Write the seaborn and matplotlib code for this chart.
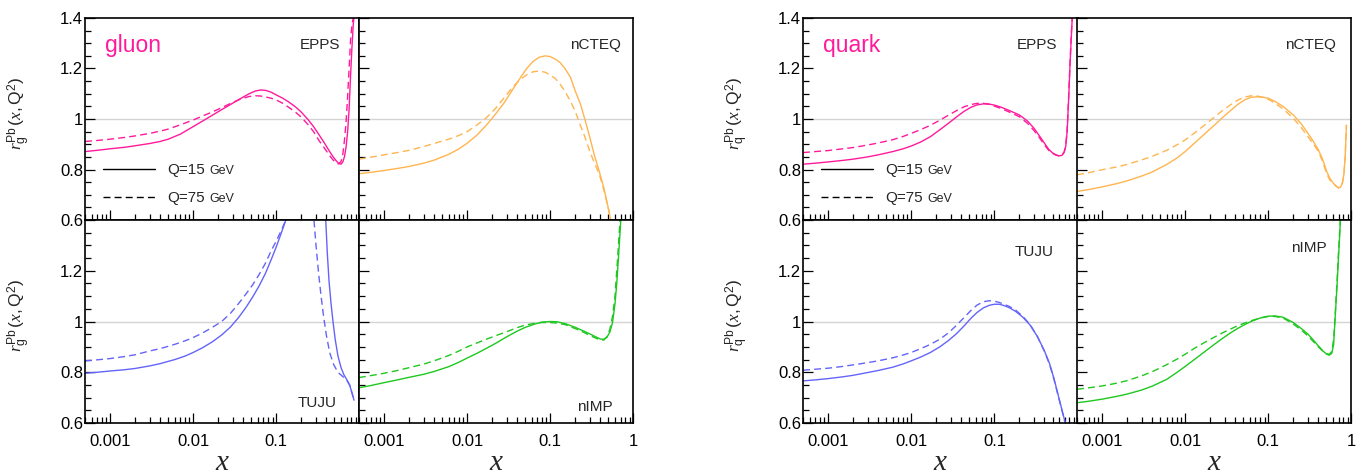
import numpy as np
import pandas as pd
import matplotlib
matplotlib.use("Agg")
import matplotlib.pyplot as plt
import matplotlib.ticker as mticker
from matplotlib.lines import Line2D
import seaborn as sns

# ---- values (nuclear ratio r(x, Q^2)) ----
# gluon, EPPS
x_g_epps = [0.0005, 0.0007, 0.001, 0.0015, 0.002, 0.003, 0.004, 0.005, 0.007, 0.01, 0.013, 0.017,
            0.022, 0.03, 0.038, 0.047, 0.056, 0.065, 0.075, 0.087, 0.1, 0.12, 0.14, 0.17, 0.2, 0.24,
            0.28, 0.33, 0.38, 0.43, 0.48, 0.52, 0.56, 0.6, 0.63, 0.66, 0.69, 0.72, 0.75, 0.78, 0.81,
            0.84, 0.87]
g_epps_15 = [0.871, 0.876, 0.882, 0.888, 0.894, 0.903, 0.911, 0.92, 0.94, 0.97, 0.992, 1.015,
             1.037, 1.063, 1.083, 1.1, 1.111, 1.115, 1.113, 1.106, 1.095, 1.082, 1.068, 1.048, 1.027,
             0.998, 0.97, 0.935, 0.904, 0.875, 0.851, 0.836, 0.825, 0.821, 0.83, 0.851, 0.89, 0.95,
             1.04, 1.167, 1.28, 1.37, 1.43]
g_epps_75 = [0.911, 0.915, 0.92, 0.927, 0.933, 0.943, 0.952, 0.96, 0.977, 0.996, 1.012, 1.028,
             1.045, 1.066, 1.08, 1.089, 1.092, 1.091, 1.087, 1.082, 1.075, 1.062, 1.047, 1.027, 1.007,
             0.978, 0.95, 0.912, 0.884, 0.858, 0.838, 0.827, 0.822, 0.832, 0.86, 0.917, 0.99, 1.09,
             1.2, 1.312, 1.37, 1.40, 1.44]

# gluon, nCTEQ
x_g_ncteq = [0.0005, 0.0007, 0.001, 0.0015, 0.002, 0.003, 0.004, 0.006, 0.008, 0.01, 0.013, 0.017,
             0.022, 0.028, 0.035, 0.043, 0.052, 0.062, 0.074, 0.087, 0.1, 0.115, 0.13, 0.15, 0.175,
             0.2, 0.23, 0.26, 0.3, 0.34, 0.39, 0.44, 0.5, 0.57]
g_ncteq_15 = [0.783, 0.789, 0.796, 0.805, 0.812, 0.825, 0.837, 0.86, 0.882, 0.904, 0.935, 0.975,
              1.02, 1.065, 1.115, 1.16, 1.2, 1.228, 1.245, 1.25, 1.247, 1.237, 1.225, 1.2, 1.165,
              1.11, 1.06, 1.0, 0.925, 0.855, 0.79, 0.728, 0.645, 0.55]
g_ncteq_75 = [0.841, 0.849, 0.858, 0.868, 0.876, 0.891, 0.903, 0.92, 0.935, 0.95, 0.975, 1.005,
              1.042, 1.085, 1.125, 1.155, 1.175, 1.187, 1.19, 1.185, 1.174, 1.16, 1.14, 1.11, 1.07,
              1.03, 0.975, 0.93, 0.87, 0.825, 0.78, 0.72, 0.645, 0.55]

# gluon, TUJU (leaves the top of the panel between ~0.14 and ~0.4)
x_g_tuju_15 = [0.0005, 0.0007, 0.001, 0.0015, 0.002, 0.003, 0.004, 0.006, 0.008, 0.01, 0.013,
               0.017, 0.022, 0.028, 0.035, 0.043, 0.052, 0.062, 0.074, 0.087, 0.1, 0.115, 0.13,
               0.145, 0.2, 0.3, 0.39, 0.41, 0.43, 0.455, 0.48, 0.51, 0.55, 0.6, 0.65, 0.7, 0.76,
               0.81, 0.86]
g_tuju_15 = [0.796, 0.8, 0.805, 0.81, 0.815, 0.825, 0.834, 0.85, 0.864, 0.878, 0.897, 0.92, 0.947,
             0.978, 1.015, 1.055, 1.097, 1.14, 1.19, 1.245, 1.295, 1.35, 1.4, 1.45, 2.2, 2.0, 1.42,
             1.27, 1.16, 1.07, 1.0, 0.93, 0.865, 0.818, 0.79, 0.772, 0.75, 0.72, 0.69]
x_g_tuju_75 = [0.0005, 0.0007, 0.001, 0.0015, 0.002, 0.003, 0.004, 0.006, 0.008, 0.01, 0.013,
               0.017, 0.022, 0.028, 0.035, 0.043, 0.052, 0.062, 0.074, 0.087, 0.1, 0.115, 0.13,
               0.145, 0.2, 0.26, 0.28, 0.3, 0.32, 0.345, 0.37, 0.4, 0.44, 0.49, 0.55, 0.62, 0.7,
               0.76, 0.81, 0.86]
g_tuju_75 = [0.845, 0.849, 0.854, 0.862, 0.869, 0.884, 0.893, 0.91, 0.924, 0.937, 0.955, 0.977, 1.0,
             1.032, 1.07, 1.108, 1.145, 1.185, 1.23, 1.28, 1.318, 1.36, 1.4, 1.44, 2.1, 1.6, 1.42,
             1.3, 1.2, 1.1, 1.02, 0.945, 0.875, 0.83, 0.8, 0.785, 0.77, 0.75, 0.72, 0.69]

# gluon, nIMP
x_g_nimp = [0.0005, 0.0007, 0.001, 0.0015, 0.002, 0.003, 0.004, 0.006, 0.008, 0.01, 0.013, 0.017,
            0.022, 0.03, 0.04, 0.05, 0.065, 0.08, 0.1, 0.12, 0.15, 0.2, 0.25, 0.3, 0.35, 0.4, 0.44,
            0.48, 0.52, 0.56, 0.6, 0.63, 0.66, 0.69, 0.72]
g_nimp_15 = [0.739, 0.748, 0.759, 0.771, 0.78, 0.792, 0.803, 0.822, 0.84, 0.856, 0.874, 0.894,
             0.914, 0.94, 0.962, 0.977, 0.99, 0.998, 1.0, 0.999, 0.992, 0.977, 0.963, 0.951, 0.94,
             0.931, 0.93, 0.938, 0.958, 0.995, 1.07, 1.15, 1.25, 1.35, 1.45]
g_nimp_75 = [0.779, 0.787, 0.796, 0.808, 0.818, 0.832, 0.845, 0.866, 0.884, 0.9, 0.915, 0.93, 0.944,
             0.96, 0.976, 0.986, 0.993, 0.996, 0.996, 0.994, 0.988, 0.972, 0.958, 0.945, 0.935,
             0.927, 0.927, 0.94, 0.968, 1.02, 1.1, 1.2, 1.3, 1.4, 1.48]

# quark, EPPS
x_q_epps = [0.0005, 0.0007, 0.001, 0.0015, 0.002, 0.003, 0.004, 0.006, 0.008, 0.01, 0.013, 0.017,
            0.022, 0.028, 0.035, 0.043, 0.052, 0.062, 0.074, 0.087, 0.1, 0.12, 0.15, 0.2, 0.25, 0.3,
            0.35, 0.4, 0.45, 0.5, 0.55, 0.6, 0.65, 0.69, 0.72, 0.75, 0.78, 0.81, 0.84, 0.87]
q_epps_15 = [0.821, 0.825, 0.83, 0.836, 0.841, 0.85, 0.858, 0.871, 0.882, 0.893, 0.909, 0.93,
             0.957, 0.983, 1.008, 1.03, 1.046, 1.056, 1.06, 1.059, 1.055, 1.047, 1.034, 1.016, 0.992,
             0.963, 0.932, 0.904, 0.88, 0.866, 0.858, 0.854, 0.856, 0.868, 0.89, 0.95, 1.07, 1.207,
             1.32, 1.42]
q_epps_75 = [0.867, 0.871, 0.875, 0.882, 0.887, 0.897, 0.905, 0.918, 0.931, 0.943, 0.958, 0.975,
             0.995, 1.015, 1.033, 1.048, 1.057, 1.062, 1.062, 1.058, 1.051, 1.042, 1.028, 1.009,
             0.983, 0.954, 0.925, 0.897, 0.876, 0.864, 0.857, 0.854, 0.857, 0.869, 0.892, 0.96,
             1.08, 1.215, 1.33, 1.42]

# quark, nCTEQ
x_q_ncteq = [0.0005, 0.0007, 0.001, 0.0015, 0.002, 0.003, 0.004, 0.006, 0.008, 0.01, 0.013, 0.017,
             0.022, 0.028, 0.035, 0.043, 0.052, 0.062, 0.074, 0.087, 0.1, 0.12, 0.15, 0.2, 0.25,
             0.3, 0.35, 0.4, 0.45, 0.5, 0.55, 0.6, 0.65, 0.7, 0.74, 0.78, 0.81, 0.84, 0.87]
q_ncteq_15 = [0.713, 0.721, 0.731, 0.744, 0.755, 0.774, 0.79, 0.82, 0.846, 0.871, 0.905, 0.94,
              0.973, 1.005, 1.033, 1.058, 1.076, 1.086, 1.088, 1.086, 1.082, 1.07, 1.05, 1.016, 0.98,
              0.943, 0.91, 0.878, 0.84, 0.795, 0.765, 0.747, 0.735, 0.727, 0.73, 0.748, 0.78, 0.85,
              0.976]
q_ncteq_75 = [0.779, 0.788, 0.799, 0.81, 0.82, 0.838, 0.852, 0.876, 0.898, 0.917, 0.945, 0.975,
              1.005, 1.033, 1.056, 1.075, 1.087, 1.092, 1.091, 1.085, 1.078, 1.063, 1.04, 1.003,
              0.965, 0.93, 0.9, 0.871, 0.832, 0.785, 0.758, 0.745, 0.735, 0.727, 0.73, 0.748, 0.78,
              0.85, 0.976]

# quark, TUJU
x_q_tuju = [0.0005, 0.0007, 0.001, 0.0015, 0.002, 0.003, 0.004, 0.006, 0.008, 0.01, 0.013, 0.017,
            0.022, 0.028, 0.035, 0.043, 0.052, 0.062, 0.074, 0.087, 0.1, 0.115, 0.13, 0.15, 0.18,
            0.22, 0.27, 0.33, 0.4, 0.46, 0.52, 0.58, 0.64, 0.7, 0.75]
q_tuju_15 = [0.766, 0.77, 0.775, 0.782, 0.788, 0.799, 0.807, 0.82, 0.833, 0.845, 0.86, 0.878, 0.9,
             0.925, 0.952, 0.982, 1.012, 1.036, 1.054, 1.064, 1.068, 1.068, 1.063, 1.055, 1.04, 1.017,
             0.985, 0.94, 0.884, 0.835, 0.776, 0.715, 0.66, 0.61, 0.57]
q_tuju_75 = [0.808, 0.812, 0.816, 0.823, 0.829, 0.838, 0.845, 0.857, 0.868, 0.878, 0.893, 0.91,
             0.93, 0.955, 0.985, 1.015, 1.043, 1.065, 1.078, 1.082, 1.08, 1.075, 1.068, 1.06, 1.045,
             1.02, 0.987, 0.94, 0.882, 0.832, 0.773, 0.712, 0.658, 0.608, 0.568]

# quark, nIMP
x_q_nimp = [0.0005, 0.0007, 0.001, 0.0015, 0.002, 0.003, 0.004, 0.006, 0.008, 0.01, 0.013, 0.017,
            0.022, 0.028, 0.035, 0.043, 0.052, 0.065, 0.08, 0.1, 0.12, 0.15, 0.2, 0.25, 0.3, 0.35,
            0.4, 0.45, 0.5, 0.54, 0.58, 0.61, 0.64, 0.67, 0.7, 0.74]
q_nimp_15 = [0.68, 0.686, 0.694, 0.705, 0.714, 0.73, 0.745, 0.772, 0.8, 0.823, 0.851, 0.88,
             0.908, 0.933, 0.955, 0.973, 0.988, 1.003, 1.014, 1.021, 1.022, 1.017, 0.996, 0.972,
             0.95, 0.926, 0.904, 0.885, 0.872, 0.867, 0.875, 0.91, 1.029, 1.14, 1.26, 1.41]
q_nimp_75 = [0.733, 0.739, 0.746, 0.757, 0.767, 0.786, 0.802, 0.83, 0.852, 0.871, 0.895, 0.917,
             0.937, 0.955, 0.97, 0.984, 0.994, 1.005, 1.014, 1.02, 1.02, 1.014, 0.99, 0.966, 0.943,
             0.92, 0.9, 0.884, 0.873, 0.871, 0.882, 0.93, 1.04, 1.155, 1.28, 1.42]

pdf_names = ["EPPS", "nCTEQ", "TUJU", "nIMP"]
pdf_colors = ["#FF1A9C", "#FFB54F", "#6464FA", "#1EC81E"]
x_ticks = [0.001, 0.01, 0.1, 1]
y_ticks = [0.6, 0.8, 1.0, 1.2, 1.4]

sns.set_style("ticks")
plt.rcParams["font.family"] = ["Liberation Sans", "DejaVu Sans"]
plt.rcParams["mathtext.fontset"] = "custom"
plt.rcParams["mathtext.rm"] = "Liberation Sans"
plt.rcParams["mathtext.it"] = "Liberation Serif:italic"
plt.rcParams["mathtext.bf"] = "Liberation Sans:bold"

fig = plt.figure(figsize=(13.69, 4.76), dpi=100)

col_left = [0.0621, 0.2622, 0.5866, 0.7867]
col_w = 0.2005
row_bottom = [0.5378, 0.1113]
row_height = [0.4244, 0.4265]

groups = [
    ("gluon", "g", [
        (x_g_epps, g_epps_15, x_g_epps, g_epps_75),
        (x_g_ncteq, g_ncteq_15, x_g_ncteq, g_ncteq_75),
        (x_g_tuju_15, g_tuju_15, x_g_tuju_75, g_tuju_75),
        (x_g_nimp, g_nimp_15, x_g_nimp, g_nimp_75),
    ], [(0.93, 0.866), (0.953, 0.866), (0.916, 0.10), (0.923, 0.08)]),
    ("quark", "q", [
        (x_q_epps, q_epps_15, x_q_epps, q_epps_75),
        (x_q_ncteq, q_ncteq_15, x_q_ncteq, q_ncteq_75),
        (x_q_tuju, q_tuju_15, x_q_tuju, q_tuju_75),
        (x_q_nimp, q_nimp_15, x_q_nimp, q_nimp_75),
    ], [(0.927, 0.866), (0.945, 0.866), (0.912, 0.844), (0.909, 0.861)]),
]

for gi, (gname, sub, curves, name_pos) in enumerate(groups):
    for k in range(4):
        row, col = k // 2, k % 2
        ax = fig.add_axes([col_left[2 * gi + col], row_bottom[row], col_w, row_height[row]])
        x15, r15, x75, r75 = curves[k]
        df = pd.concat([
            pd.DataFrame({"x": x15, "r": r15, "Q": "15"}),
            pd.DataFrame({"x": x75, "r": r75, "Q": "75"}),
        ])
        ax.set_xscale("log")
        ax.axhline(1.0, color="#d4d4d4", lw=1.0, zorder=0)
        sns.lineplot(data=df, x="x", y="r", style="Q", dashes={"15": "", "75": (5, 3)},
                     color=pdf_colors[k], lw=1.0, estimator=None, legend=False, ax=ax)
        ax.set_xlim(5e-4, 1)
        ax.set_ylim(0.6, 1.4)
        ax.set_xlabel("")
        ax.set_ylabel("")

        ax.xaxis.set_major_locator(mticker.FixedLocator(x_ticks))
        ax.xaxis.set_minor_locator(mticker.LogLocator(base=10, subs=np.arange(2, 10), numticks=20))
        ax.xaxis.set_minor_formatter(mticker.NullFormatter())
        ax.yaxis.set_major_locator(mticker.FixedLocator(y_ticks))
        ax.yaxis.set_minor_locator(mticker.MultipleLocator(0.05))
        ax.tick_params(which="both", direction="in", top=False, right=False, color="black",
                       width=0.9, labelcolor="black")
        ax.tick_params(which="major", length=7)
        ax.tick_params(which="minor", length=4)
        ax.tick_params(axis="x", pad=8, labelsize=12)
        ax.tick_params(axis="y", pad=1.5, labelsize=12)
        for s in ax.spines.values():
            s.set_color("black")
            s.set_linewidth(1.2)

        if row == 1:
            xl = ["0.001", "0.01", "0.1", "" if col == 0 else "1"]
            ax.set_xticklabels(xl)
            ax.set_xlabel(r"$x$", fontsize=21)
            ax.xaxis.set_label_coords(0.5, -0.125)
        else:
            ax.tick_params(axis="x", labelbottom=False)

        if col == 0:
            yl = ["0.6", "0.8", "1", "1.2", "1.4" if row == 0 else ""]
            ax.set_yticklabels(yl)
            ax.set_ylabel(r"$r_{\mathrm{%s}}^{\mathrm{Pb}}\,(x,\mathrm{Q}^2)$" % sub, fontsize=12.5)
            ax.yaxis.set_label_coords(-0.19, 0.53)
        else:
            ax.tick_params(axis="y", labelleft=False)

        tx, ty = name_pos[k]
        ax.text(tx, ty, pdf_names[k], transform=ax.transAxes, ha="right", va="center", fontsize=11)

        if k == 0:
            ax.text(0.073, 0.833, gname, transform=ax.transAxes, ha="left", va="baseline",
                    fontsize=16.5, color=pdf_colors[0])
            handles = [Line2D([], [], color="black", lw=1.0),
                       Line2D([], [], color="black", lw=1.0, dashes=(5, 3))]
            leg = ax.legend(handles, ["Q=15", "Q=75"], loc="lower left", bbox_to_anchor=(0.067, 0.075),
                            frameon=False, fontsize=11, handlelength=3.4, handletextpad=0.8,
                            labelspacing=0.9, borderpad=0, borderaxespad=0)
            for t in leg.get_texts():
                ax.annotate("GeV", xy=(1, 0), xycoords=t, xytext=(3, 0), textcoords="offset points",
                            fontsize=9, va="bottom", ha="left", zorder=10)

fig.savefig("out.png", dpi=100)
